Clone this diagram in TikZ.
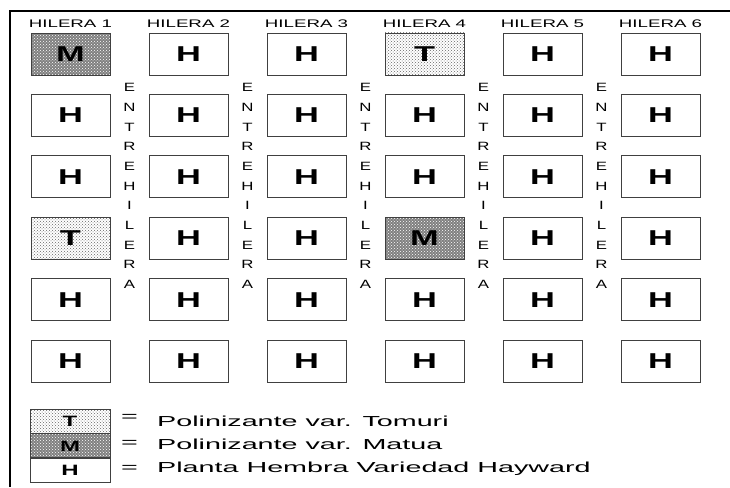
\documentclass[tikz,border=0pt]{standalone}
\usepackage{fontspec}
\usepackage{tikz}
\usetikzlibrary{positioning, patterns}
\newfontfamily\wideface[FakeStretch=1.7]{Liberation Sans}
\newfontfamily\gapface[FakeStretch=1.4]{Liberation Sans}
\newfontfamily\keyface[FakeStretch=1.98]{Liberation Sans}
\newfontfamily\boxface[FakeStretch=1.6]{Liberation Sans Bold}

\tikzset{
  plant/.style={draw=black!75, line width=0.9pt, minimum width=79pt, minimum height=42pt,
    inner sep=0pt, font=\boxface\fontsize{21.5}{21.5}\selectfont},
  boxH/.style={plant, fill=white},
  boxM/.style={plant, preaction={fill=black!50}, pattern=crosshatch dots, pattern color=white},
  boxT/.style={plant, preaction={fill=white}, pattern=crosshatch dots, pattern color=black!60},
  hilera/.style={font=\wideface\fontsize{11}{12}\selectfont, inner sep=0pt},
  gapword/.style={font=\gapface\fontsize{12}{19.7}\selectfont, align=center, inner sep=0pt},
  keybox/.style={draw=black!75, line width=0.9pt, minimum width=80pt, minimum height=24pt,
    inner sep=0pt, font=\boxface\fontsize{15}{15}\selectfont},
  keytext/.style={font=\keyface\fontsize{14.5}{16}\selectfont, inner sep=0pt, anchor=west}
}

\begin{document}
\begin{tikzpicture}[x=1pt, y=-1pt]
    \useasboundingbox (0,0) rectangle (730,487);

    % frame (only top and left edges show)
    \draw[line width=2pt] (10,487) |- (730,11);

    % headers
    \foreach \c in {1,...,6}
        \node[hilera] (hil-\c) at ({70.5+118*(\c-1)}, 24) {HILERA \c};

    % plants, row by row
    \foreach \r/\row in {1/{M,H,H,T,H,H}, 2/{H,H,H,H,H,H}, 3/{H,H,H,H,H,H},
                         4/{T,H,H,M,H,H}, 5/{H,H,H,H,H,H}, 6/{H,H,H,H,H,H}} {
        \foreach \k [count=\c] in \row
            \node[box\k] (p-\c-\r) at ({70.5+118*(\c-1)}, {54+61.4*(\r-1)}) {\k};
    }

    % entrehileras
    \foreach \g in {1,...,5}
        \node[gapword] (eh-\g) at ({129.5+118*(\g-1)}, 186) {E\\N\\T\\R\\E\\H\\I\\L\\E\\R\\A};

    % legend
    \node[keybox, preaction={fill=white}, pattern=crosshatch dots, pattern color=black!60] (key-t) at (70,421) {T};
    \node[keybox, preaction={fill=black!50}, pattern=crosshatch dots, pattern color=white, below=0pt of key-t] (key-m) {M};
    \node[keybox, fill=white, below=0pt of key-m] (key-h) {H};

    \node[keytext] (eq-t) at (121,418) {=};
    \node[keytext] (eq-m) at (121,444) {=};
    \node[keytext] (eq-h) at (121,469) {=};
    \node[keytext] (txt-t) at (157,421) {Polinizante var. Tomuri};
    \node[keytext] (txt-m) at (157,444) {Polinizante var. Matua};
    \node[keytext] (txt-h) at (157,469) {Planta Hembra Variedad Hayward};
\end{tikzpicture}
\end{document}
